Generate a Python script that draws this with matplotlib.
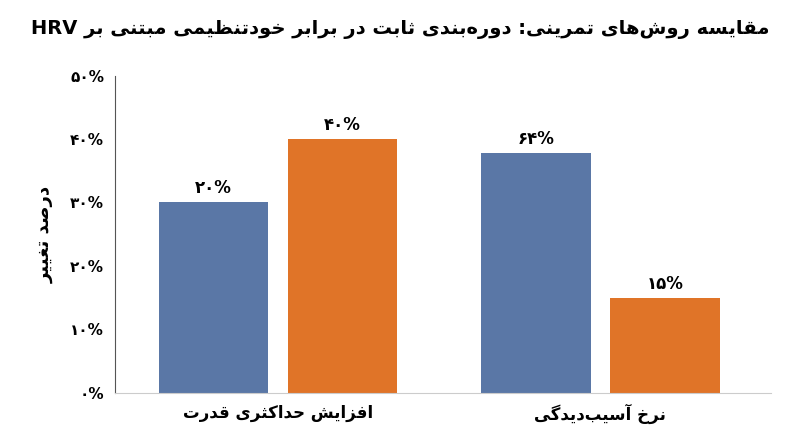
import numpy as np
import matplotlib.pyplot as plt

# --- minimal Persian shaping (matplotlib has no bidi/shaping) ---
FORMS = {
    'ا': (0xFE8D, 0xFE8E, None, None), 'آ': (0xFE81, 0xFE82, None, None),
    'ب': (0xFE8F, 0xFE90, 0xFE91, 0xFE92), 'پ': (0xFB56, 0xFB57, 0xFB58, 0xFB59),
    'ت': (0xFE95, 0xFE96, 0xFE97, 0xFE98), 'ث': (0xFE99, 0xFE9A, 0xFE9B, 0xFE9C),
    'ج': (0xFE9D, 0xFE9E, 0xFE9F, 0xFEA0), 'ح': (0xFEA1, 0xFEA2, 0xFEA3, 0xFEA4),
    'خ': (0xFEA5, 0xFEA6, 0xFEA7, 0xFEA8), 'د': (0xFEA9, 0xFEAA, None, None),
    'ر': (0xFEAD, 0xFEAE, None, None), 'ز': (0xFEAF, 0xFEB0, None, None),
    'س': (0xFEB1, 0xFEB2, 0xFEB3, 0xFEB4), 'ش': (0xFEB5, 0xFEB6, 0xFEB7, 0xFEB8),
    'ص': (0xFEB9, 0xFEBA, 0xFEBB, 0xFEBC), 'ظ': (0xFEC5, 0xFEC6, 0xFEC7, 0xFEC8),
    'غ': (0xFECD, 0xFECE, 0xFECF, 0xFED0), 'ف': (0xFED1, 0xFED2, 0xFED3, 0xFED4),
    'ق': (0xFED5, 0xFED6, 0xFED7, 0xFED8), 'ک': (0xFB8E, 0xFB8F, 0xFB90, 0xFB91),
    'گ': (0xFB92, 0xFB93, 0xFB94, 0xFB95), 'ل': (0xFEDD, 0xFEDE, 0xFEDF, 0xFEE0),
    'م': (0xFEE1, 0xFEE2, 0xFEE3, 0xFEE4), 'ن': (0xFEE5, 0xFEE6, 0xFEE7, 0xFEE8),
    'ه': (0xFEE9, 0xFEEA, 0xFEEB, 0xFEEC), 'و': (0xFEED, 0xFEEE, None, None),
    'ی': (0xFBFC, 0xFBFD, 0xFBFE, 0xFBFF),
}


def dual(c):
    return c in FORMS and FORMS[c][2] is not None


def fa(s):
    shaped = []
    for i, c in enumerate(s):
        if c not in FORMS:
            if c != '\u200c':
                shaped.append(c)
            continue
        prev = s[i - 1] if i > 0 else ''
        nxt = s[i + 1] if i + 1 < len(s) else ''
        jp = dual(prev)
        jn = dual(c) and nxt in FORMS
        iso, fin, ini, med = FORMS[c]
        if jp and jn:
            f = med
        elif jp:
            f = fin
        elif jn:
            f = ini
        else:
            f = iso
        shaped.append(chr(f))
    # split into LTR (latin) runs and RTL runs, then reverse for display
    runs, cur, cur_ltr = [], '', None
    for c in shaped:
        ltr = c.isascii() and c.isalnum()
        if cur and ltr != cur_ltr and not (c == ' ' or cur_ltr is None):
            runs.append((cur, cur_ltr))
            cur = ''
        if c == ' ':
            ltr = False
        if not cur:
            cur_ltr = ltr
        cur += c
    if cur:
        runs.append((cur, cur_ltr))
    out = [r if l else r[::-1] for r, l in runs]
    return ''.join(out[::-1])


title = 'مقایسه روش‌های تمرینی: دوره‌بندی ثابت در برابر خودتنظیمی مبتنی بر HRV'
categories = ['افزایش حداکثری قدرت', 'نرخ آسیب‌دیدگی']
fixed = [30, 37.8]
hrv = [40, 15]
fixed_labels = ['۲۰%', '۶۴%']
hrv_labels = ['۴۰%', '۱۵%']
yticks = [0, 10, 20, 30, 40, 50]
ytick_labels = ['۰%', '۱۰%', '۲۰%', '۳۰%', '۴۰%', '۵۰%']

blue = '#5a77a6'
orange = '#e07428'

fig = plt.figure(figsize=(8, 4.47), dpi=100)
ax = fig.add_axes([0.144, 0.121, 0.82, 0.71])

x = np.arange(len(categories))
w = 0.34
b1 = ax.bar(x - 0.2, fixed, w, color=blue)
b2 = ax.bar(x + 0.2, hrv, w, color=orange)
for bars, labs in ((b1, fixed_labels), (b2, hrv_labels)):
    for b, t in zip(bars, labs):
        ax.text(b.get_x() + b.get_width() / 2, b.get_height() + 0.8, t,
                ha='center', va='bottom', fontsize=12, fontweight='bold')

ax.set_xlim(-0.505, 1.53)
ax.set_ylim(0, 50)
ax.set_yticks(yticks)
ax.set_yticklabels(ytick_labels, fontsize=11, fontweight='bold')
ax.set_xticks(x)
ax.set_xticklabels([fa(c) for c in categories], fontsize=12, fontweight='bold')
ax.tick_params(length=0, pad=8)
ax.spines['top'].set_visible(False)
ax.spines['right'].set_visible(False)
ax.spines['left'].set_color('#555555')
ax.spines['bottom'].set_color('#cccccc')
ax.set_ylabel(fa('درصد تغییر'), fontsize=13, fontweight='bold', labelpad=12)

fig.text(0.5, 0.925, fa(title), ha='center', fontsize=14, fontweight='bold')

fig.savefig('out.png', dpi=100)
